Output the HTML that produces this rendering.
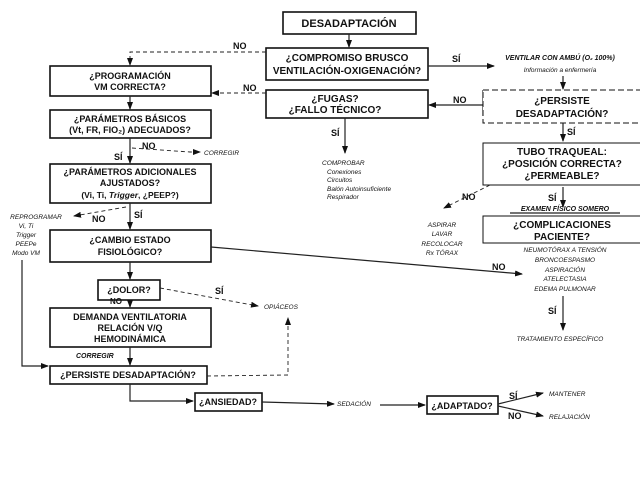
<!DOCTYPE html>
<html><head><meta charset="utf-8"><style>
html,body{margin:0;padding:0;background:#fff;}
svg{display:block;}
text{font-family:"Liberation Sans",sans-serif;font-weight:bold;fill:#111;}
.b{font-size:10px;text-anchor:middle;}
.s{font-size:6.5px;font-style:italic;font-weight:normal;}
.m{font-size:7px;font-style:italic;}
.l{font-size:9px;}
rect{fill:#fff;stroke:#111;stroke-width:1.6;}
line,polyline{stroke:#222;stroke-width:1.2;fill:none;}
.d{stroke-dasharray:4,3;stroke-width:0.9;}
</style></head><body>
<svg width="640" height="480" viewBox="0 0 640 480" xmlns="http://www.w3.org/2000/svg">
<defs><marker id="a" markerWidth="8" markerHeight="6" refX="7" refY="3" orient="auto" markerUnits="userSpaceOnUse"><path d="M0,0L8,3L0,6z" fill="#111"/></marker></defs>

<!-- top -->
<rect x="283" y="12" width="133" height="22"/>
<text class="b" x="349" y="27" style="font-size:11px">DESADAPTACIÓN</text>
<line x1="349" y1="34" x2="349" y2="47" marker-end="url(#a)"/>
<rect x="266" y="48" width="162" height="32"/>
<text class="b" x="347" y="61">¿COMPROMISO BRUSCO</text>
<text class="b" x="347" y="74">VENTILACIÓN-OXIGENACIÓN?</text>
<line x1="428" y1="66" x2="494" y2="66" marker-end="url(#a)"/>
<text class="l" x="452" y="62">SÍ</text>
<text class="m" x="560" y="60" text-anchor="middle">VENTILAR CON AMBÚ (O₂ 100%)</text>
<text class="s" x="560" y="72" text-anchor="middle">Información a enfermería</text>
<line x1="563" y1="76" x2="563" y2="89" marker-end="url(#a)"/>

<polyline class="d" points="266,52 130,52 130,65" marker-end="url(#a)"/>
<text class="l" x="233" y="49">NO</text>

<rect x="50" y="66" width="161" height="30"/>
<text class="b" x="130" y="79" style="font-size:9px">¿PROGRAMACIÓN</text>
<text class="b" x="130" y="90" style="font-size:9px">VM CORRECTA?</text>
<line x1="130" y1="96" x2="130" y2="109" marker-end="url(#a)"/>

<rect x="266" y="90" width="162" height="28"/>
<text class="b" x="335" y="102">¿FUGAS?</text>
<text class="b" x="335" y="113">¿FALLO TÉCNICO?</text>
<line class="d" x1="266" y1="93" x2="212" y2="93" marker-end="url(#a)"/>
<text class="l" x="243" y="91">NO</text>

<line x1="483" y1="90" x2="483" y2="116"/>
<line x1="483" y1="105" x2="429" y2="105" stroke-width="2" marker-end="url(#a)"/>
<text class="l" x="453" y="103">NO</text>

<rect x="483" y="90" width="160" height="33" style="stroke-dasharray:6,3;stroke-width:1"/>
<text class="b" x="562" y="104">¿PERSISTE</text>
<text class="b" x="562" y="117">DESADAPTACIÓN?</text>
<line x1="563" y1="123" x2="563" y2="141" marker-end="url(#a)"/>
<text class="l" x="567" y="135">SÍ</text>

<rect x="483" y="143" width="160" height="42" style="stroke-width:1"/>
<text class="b" x="562" y="155">TUBO TRAQUEAL:</text>
<text class="b" x="562" y="167">¿POSICIÓN CORRECTA?</text>
<text class="b" x="562" y="179">¿PERMEABLE?</text>
<line x1="563" y1="187" x2="563" y2="207" marker-end="url(#a)"/>
<text class="l" x="548" y="201">SÍ</text>
<text class="m" x="565" y="211" text-anchor="middle">EXAMEN FÍSICO SOMERO</text>
<line x1="510" y1="213" x2="620" y2="213" stroke-width="0.8"/>

<rect x="483" y="216" width="160" height="27" style="stroke-width:1"/>
<text class="b" x="562" y="228">¿COMPLICACIONES</text>
<text class="b" x="562" y="240">PACIENTE?</text>
<text class="s" x="565" y="252" text-anchor="middle">NEUMOTÓRAX A TENSIÓN</text>
<text class="s" x="565" y="262" text-anchor="middle">BRONCOESPASMO</text>
<text class="s" x="565" y="272" text-anchor="middle">ASPIRACIÓN</text>
<text class="s" x="565" y="281" text-anchor="middle">ATELECTASIA</text>
<text class="s" x="565" y="291" text-anchor="middle">EDEMA PULMONAR</text>
<line x1="563" y1="296" x2="563" y2="330" marker-end="url(#a)"/>
<text class="l" x="548" y="314">SÍ</text>
<text class="s" x="560" y="341" text-anchor="middle">TRATAMIENTO ESPECÍFICO</text>

<line class="d" x1="490" y1="185" x2="444" y2="208" marker-end="url(#a)"/>
<text class="l" x="462" y="200">NO</text>
<text class="s" x="442" y="227" text-anchor="middle">ASPIRAR</text>
<text class="s" x="442" y="236" text-anchor="middle">LAVAR</text>
<text class="s" x="442" y="246" text-anchor="middle">RECOLOCAR</text>
<text class="s" x="442" y="255" text-anchor="middle">Rx TÓRAX</text>

<line x1="345" y1="118" x2="345" y2="153" marker-end="url(#a)"/>
<text class="l" x="331" y="136">SÍ</text>
<text class="s" x="322" y="165">COMPROBAR</text>
<text class="s" x="327" y="174">Conexiones</text>
<text class="s" x="327" y="182">Circuitos</text>
<text class="s" x="327" y="191">Balón Autoinsuficiente</text>
<text class="s" x="327" y="199">Respirador</text>

<rect x="50" y="110" width="161" height="28"/>
<text class="b" x="130" y="122" style="font-size:9px">¿PARÁMETROS BÁSICOS</text>
<text class="b" x="130" y="133" style="font-size:9px">(Vt, FR, FIO₂) ADECUADOS?</text>
<polyline class="d" points="132,148 190,152 200,152" marker-end="url(#a)"/>
<text class="l" x="142" y="149">NO</text>
<text class="s" x="204" y="155">CORREGIR</text>
<line x1="130" y1="138" x2="130" y2="163" marker-end="url(#a)"/>
<text class="l" x="114" y="160">SÍ</text>

<rect x="50" y="164" width="161" height="39"/>
<text class="b" x="130" y="175" style="font-size:9px">¿PARÁMETROS ADICIONALES</text>
<text class="b" x="130" y="186" style="font-size:9px">AJUSTADOS?</text>
<text class="b" x="130" y="198" style="font-size:8.5px">(Vi, Ti, <tspan font-style="italic">Trigger</tspan>, ¿PEEP?)</text>
<line x1="130" y1="203" x2="130" y2="229" marker-end="url(#a)"/>
<text class="l" x="134" y="218">SÍ</text>
<line class="d" x1="126" y1="207" x2="74" y2="216" marker-end="url(#a)"/>
<text class="l" x="92" y="222">NO</text>
<text class="s" x="36" y="219" text-anchor="middle">REPROGRAMAR</text>
<text class="s" x="26" y="228" text-anchor="middle">Vi, Ti</text>
<text class="s" x="26" y="237" text-anchor="middle">Trigger</text>
<text class="s" x="26" y="246" text-anchor="middle">PEEPe</text>
<text class="s" x="26" y="255" text-anchor="middle">Modo VM</text>
<polyline points="22,260 22,366 48,366" marker-end="url(#a)"/>

<rect x="50" y="230" width="161" height="32"/>
<text class="b" x="130" y="243" style="font-size:9px">¿CAMBIO ESTADO</text>
<text class="b" x="130" y="255" style="font-size:9px">FISIOLÓGICO?</text>
<line x1="211" y1="247" x2="522" y2="274" marker-end="url(#a)"/>
<text class="l" x="492" y="270">NO</text>
<line x1="130" y1="262" x2="130" y2="279" marker-end="url(#a)"/>

<rect x="98" y="280" width="62" height="20"/>
<text class="b" x="129" y="293" style="font-size:9px">¿DOLOR?</text>
<line class="d" x1="160" y1="288" x2="258" y2="306" marker-end="url(#a)"/>
<text class="l" x="215" y="294">SÍ</text>
<text class="s" x="264" y="309">OPIÁCEOS</text>
<text class="l" x="110" y="304" style="font-size:8px">NO</text>
<line x1="130" y1="300" x2="130" y2="307" marker-end="url(#a)"/>

<rect x="50" y="308" width="161" height="39"/>
<text class="b" x="130" y="320" style="font-size:9px">DEMANDA VENTILATORIA</text>
<text class="b" x="130" y="331" style="font-size:9px">RELACIÓN V/Q</text>
<text class="b" x="130" y="342" style="font-size:9px">HEMODINÁMICA</text>
<text class="m" x="76" y="358" style="font-size:7px">CORREGIR</text>
<line x1="130" y1="347" x2="130" y2="365" marker-end="url(#a)"/>

<rect x="50" y="366" width="157" height="18"/>
<text class="b" x="128" y="378" style="font-size:9px">¿PERSISTE DESADAPTACIÓN?</text>
<polyline class="d" points="207,376 288,375 288,318" marker-end="url(#a)"/>
<polyline points="130,384 130,401 193,401" marker-end="url(#a)"/>

<rect x="195" y="393" width="67" height="18"/>
<text class="b" x="228" y="405" style="font-size:9px">¿ANSIEDAD?</text>
<line x1="262" y1="402" x2="334" y2="404" marker-end="url(#a)"/>
<text class="s" x="337" y="406">SEDACIÓN</text>
<line x1="380" y1="405" x2="425" y2="405" marker-end="url(#a)"/>
<rect x="427" y="396" width="71" height="18"/>
<text class="b" x="462" y="409" style="font-size:9px">¿ADAPTADO?</text>
<line x1="498" y1="404" x2="543" y2="393" marker-end="url(#a)"/>
<line x1="498" y1="406" x2="543" y2="416" marker-end="url(#a)"/>
<text class="l" x="509" y="399">SÍ</text>
<text class="l" x="508" y="419">NO</text>
<text class="s" x="549" y="396">MANTENER</text>
<text class="s" x="549" y="419">RELAJACIÓN</text>
</svg>
</body></html>
